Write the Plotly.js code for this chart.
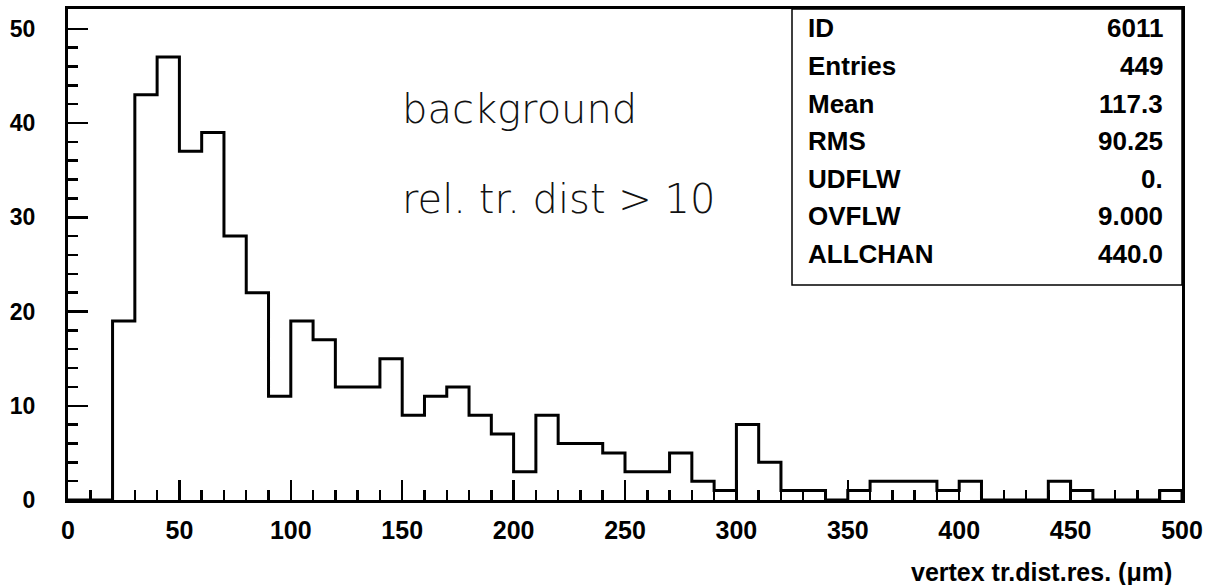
<!DOCTYPE html>
<html>
<head>
<meta charset="utf-8">
<script src="https://cdn.plot.ly/plotly-3.0.1.min.js"></script>
<style>
html,body{margin:0;padding:0;background:#fff;}
#chart{width:1212px;height:585px;}
</style>
</head>
<body>
<div id="chart"></div>
<script>
// Histogram: bins of width 10 from 0 to 500
const binStart = 0;
const binWidth = 10;
const counts = [
  0, 0, 19, 43, 47, 37, 39, 28, 22, 11,
  19, 17, 12, 12, 15, 9, 11, 12, 9, 7,
  3, 9, 6, 6, 5, 3, 3, 5, 2, 1,
  8, 4, 1, 1, 0, 1, 2, 2, 2, 1,
  2, 0, 0, 0, 2, 1, 0, 0, 0, 1
];

const statLabels = ["ID", "Entries", "Mean", "RMS", "UDFLW", "OVFLW", "ALLCHAN"];
const statValues = ["6011", "449", "117.3", "90.25", "0.", "9.000", "440.0"];

const textLines = ["background", "rel. tr. dist > 10"];
const xTitle = "vertex tr.dist.res. (\u03bcm)";

// Build step outline from bins
const xs = [], ys = [];
for (let i = 0; i < counts.length; i++) {
  xs.push(binStart + i * binWidth);
  ys.push(counts[i]);
}
const lastEdge = binStart + counts.length * binWidth;
xs.push(lastEdge); ys.push(counts[counts.length - 1]);
xs.push(lastEdge); ys.push(0);

const trace = {
  type: 'scatter', mode: 'lines',
  x: xs, y: ys,
  line: {shape: 'hv', color: 'black', width: 3},
  hoverinfo: 'skip'
};

const plotTop = 9, plotBottom = 500, plotLeft = 68, plotRight = 1182;
const ph = plotBottom - plotTop, pw = plotRight - plotLeft;
const py = (pix) => (plotBottom - pix) / ph;
const px = (pix) => (pix - plotLeft) / pw;

const boldFont = (s) => ({family: 'Liberation Sans, Arial, sans-serif', size: s, color: 'black', weight: 'bold'});

const annotations = [];
const rowY = [28, 66, 104, 141, 179, 216, 254];
for (let i = 0; i < statLabels.length; i++) {
  annotations.push({
    xref: 'paper', yref: 'paper', x: px(806), y: py(rowY[i]),
    xanchor: 'left', yanchor: 'middle', showarrow: false,
    text: statLabels[i], font: boldFont(26)
  });
  annotations.push({
    xref: 'paper', yref: 'paper', x: px(1165), y: py(rowY[i]),
    xanchor: 'right', yanchor: 'middle', showarrow: false,
    text: statValues[i], font: boldFont(26)
  });
}
const textY = [109, 199];
for (let i = 0; i < textLines.length; i++) {
  annotations.push({
    xref: 'paper', yref: 'paper', x: px(400), y: py(textY[i]),
    xanchor: 'left', yanchor: 'middle', showarrow: false,
    text: textLines[i].replace('>', '&gt;'),
    font: {family: 'DejaVu Sans, sans-serif', size: 40, color: '#111', weight: 200}
  });
}
annotations.push({
  xref: 'paper', yref: 'paper', x: px(1174), y: py(572),
  xanchor: 'right', yanchor: 'middle', showarrow: false,
  text: xTitle, font: boldFont(25)
});

const layout = {
  width: 1212, height: 585,
  margin: {l: plotLeft, r: 1212 - plotRight, t: plotTop, b: 585 - plotBottom},
  paper_bgcolor: 'white', plot_bgcolor: 'white',
  showlegend: false,
  xaxis: {
    range: [0, 500], dtick: 50, tick0: 0,
    ticks: 'inside', ticklen: 20, tickwidth: 2.5, tickcolor: 'black',
    minor: {dtick: 10, ticklen: 10, tickwidth: 2.5, tickcolor: 'black', ticks: 'inside'},
    showline: true, linecolor: 'black', linewidth: 3, mirror: true,
    showgrid: false, zeroline: false,
    tickfont: boldFont(25), ticklabelstandoff: 6
  },
  yaxis: {
    range: [0, 52.1], dtick: 10, tick0: 0,
    ticks: 'inside', ticklen: 20, tickwidth: 2.5, tickcolor: 'black',
    minor: {dtick: 2, ticklen: 10, tickwidth: 2.5, tickcolor: 'black', ticks: 'inside'},
    showline: true, linecolor: 'black', linewidth: 3, mirror: true,
    showgrid: false, zeroline: false,
    tickfont: boldFont(23), ticklabelstandoff: 25
  },
  shapes: [{
    type: 'rect', xref: 'paper', yref: 'paper',
    x0: px(792), x1: 1, y0: py(285), y1: 1,
    line: {color: 'black', width: 1.5}, fillcolor: 'white', layer: 'below'
  }],
  annotations: annotations
};

Plotly.newPlot('chart', [trace], layout, {staticPlot: true});
</script>
</body>
</html>
